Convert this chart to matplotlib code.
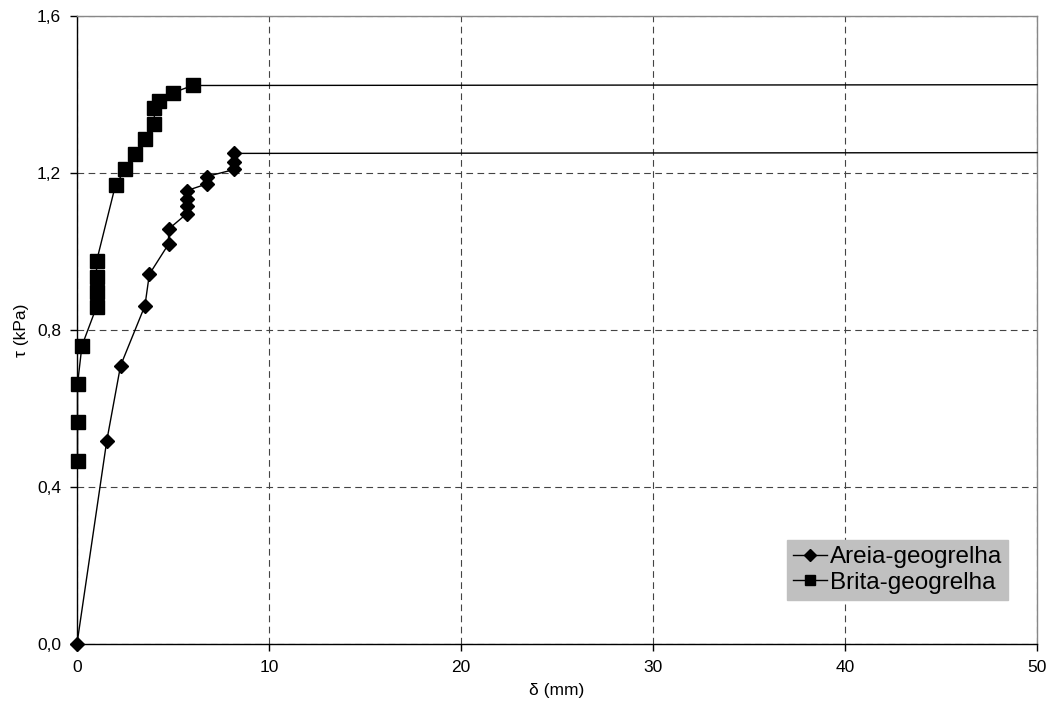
import matplotlib

matplotlib.use("Agg")
import matplotlib.pyplot as plt

plt.rcParams["font.family"] = ["Liberation Sans", "DejaVu Sans"]

# Shear stress vs displacement, last entry extends the plateau to the axis edge
areia_x = [0.0, 1.55, 2.27, 3.54, 3.77, 4.77, 4.77, 5.71, 5.71, 5.71, 5.71,
           6.75, 6.75, 8.19, 8.19, 8.19, 50.0]
areia_y = [0.0, 0.517, 0.709, 0.862, 0.942, 1.019, 1.057, 1.096, 1.116, 1.135,
           1.155, 1.172, 1.191, 1.209, 1.229, 1.250, 1.252]

brita_x = [0.03, 0.03, 0.03, 0.26, 1.02, 1.02, 1.02, 1.02, 2.01, 2.52, 3.04,
           3.52, 4.03, 4.03, 4.25, 5.02, 6.03, 50.0]
brita_y = [0.467, 0.566, 0.662, 0.760, 0.859, 0.897, 0.936, 0.975, 1.170,
           1.209, 1.248, 1.287, 1.326, 1.365, 1.384, 1.405, 1.423, 1.425]

x_ticks = [0, 10, 20, 30, 40, 50]
y_ticks = [0.0, 0.4, 0.8, 1.2, 1.6]
y_labels = ["0,0", "0,4", "0,8", "1,2", "1,6"]

fig = plt.figure(figsize=(10.47, 7.06), dpi=100)
ax = fig.add_axes([0.0735, 0.0878, 0.917, 0.8895])

ax.plot(areia_x, areia_y, color="black", lw=1.0, marker="D", ms=7.5,
        markevery=list(range(len(areia_x) - 1)), label="Areia-geogrelha",
        zorder=3, clip_on=False)
ax.plot(brita_x, brita_y, color="black", lw=1.0, marker="s", ms=9.5,
        markevery=list(range(len(brita_x) - 1)), label="Brita-geogrelha",
        zorder=3, clip_on=False)

ax.set_xlim(0, 50)
ax.set_ylim(0, 1.6)
ax.set_xticks(x_ticks)
ax.set_yticks(y_ticks)
ax.set_yticklabels(y_labels)
ax.tick_params(direction="out", length=5, width=1, labelsize=12.5, pad=6.5)
ax.grid(True, color="#444444", linestyle=(0, (6, 4)), lw=0.8)
for s in ax.spines.values():
    s.set_linewidth(1.0)
ax.spines["top"].set_color("#888888")
ax.spines["right"].set_color("#888888")

ax.set_xlabel("δ (mm)", fontsize=12.5, labelpad=6)
ax.set_ylabel("τ (kPa)", fontsize=12.5, labelpad=6)

leg = ax.legend(loc="lower right", bbox_to_anchor=(0.970, 0.070),
                fontsize=17.5, frameon=True, fancybox=False,
                facecolor="#c0c0c0", edgecolor="#c0c0c0", framealpha=1,
                handlelength=1.4, handletextpad=0.1, borderpad=0.25,
                labelspacing=0.15, borderaxespad=0, markerscale=0.8)

fig.savefig("out.png", dpi=100)
